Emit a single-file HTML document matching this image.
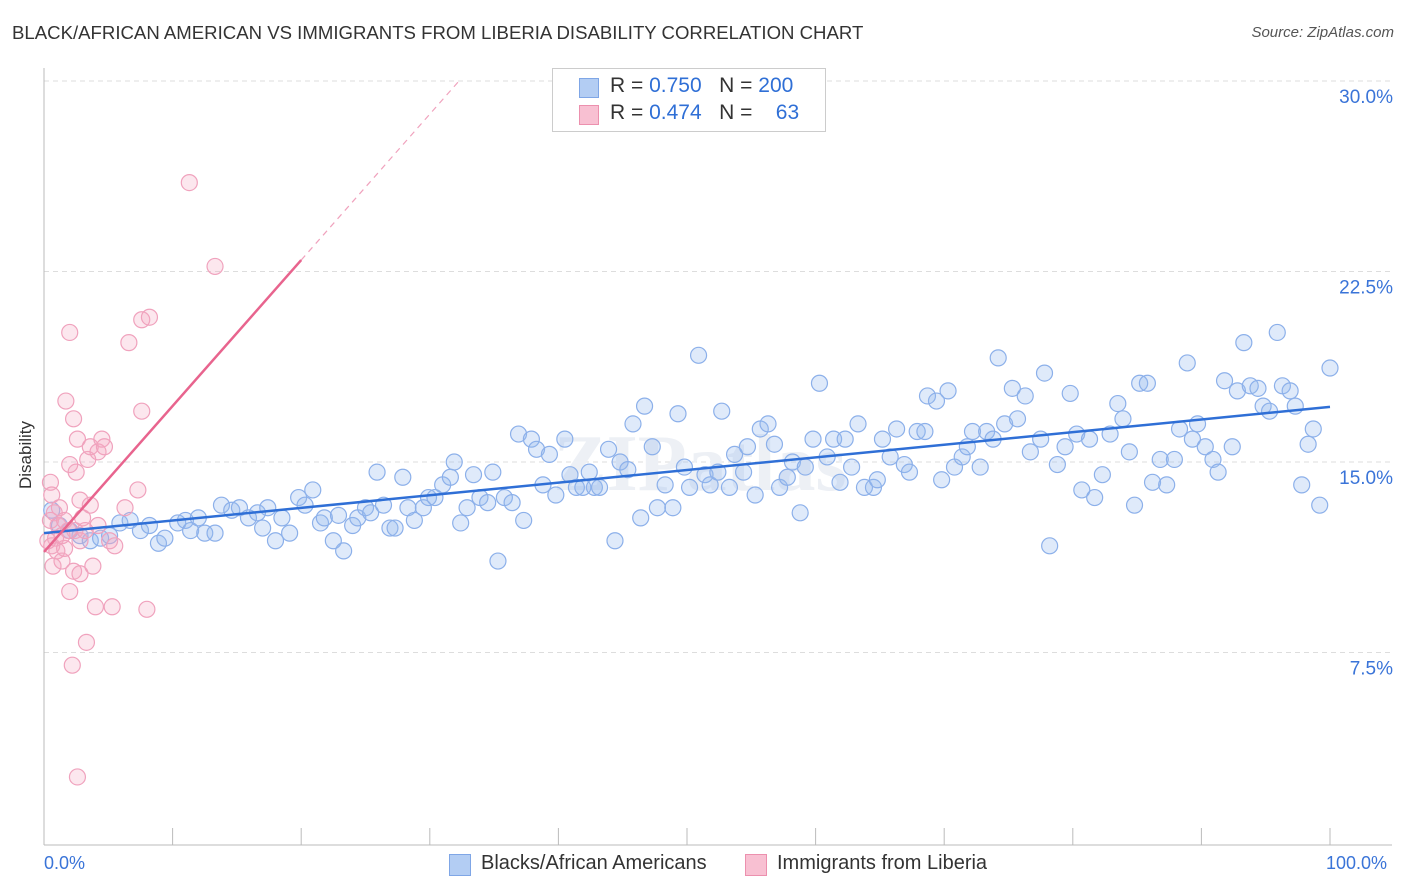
<!DOCTYPE html>
<html><head><meta charset="utf-8">
<style>
body{margin:0;background:#fff;font-family:"Liberation Sans",sans-serif;}
#wrap{position:relative;width:1406px;height:892px;overflow:hidden;}
.t{position:absolute;white-space:nowrap;}
</style></head>
<body>
<div id="wrap">
<div class="t" style="left:12px;top:22px;font-size:18.6px;color:#333;">BLACK/AFRICAN AMERICAN VS IMMIGRANTS FROM LIBERIA DISABILITY CORRELATION CHART</div>
<div class="t" style="right:12px;top:24px;font-size:15px;color:#555;font-style:italic;">Source: ZipAtlas.com</div>
<div class="t" style="left:-8px;top:445px;font-size:17px;color:#333;transform:rotate(-90deg);">Disability</div>
<svg id="plot" width="1406" height="892" style="position:absolute;left:0;top:0;"></svg>
<div class="t" style="left:44px;top:853px;font-size:18px;color:#3a74d8;">0.0%</div>
<div class="t" style="left:1326px;top:853px;font-size:18px;color:#3a74d8;">100.0%</div>
<div style="position:absolute;left:552px;top:68px;width:272px;height:62px;border:1px solid #ccc;background:#fff;">
 <div style="position:absolute;left:26px;top:9px;width:18px;height:18px;background:#b3cdf3;border:1px solid #7fa6e6;"></div>
 <div class="t" style="left:57px;top:5px;font-size:21px;color:#333;">R = <span style="color:#2f6fd6">0.750</span>&nbsp;&nbsp;&nbsp;N = <span style="color:#2f6fd6">200</span></div>
 <div style="position:absolute;left:26px;top:36px;width:18px;height:18px;background:#f8c0d2;border:1px solid #ec90ae;"></div>
 <div class="t" style="left:57px;top:32px;font-size:21px;color:#333;">R = <span style="color:#2f6fd6">0.474</span>&nbsp;&nbsp;&nbsp;N = &nbsp;&nbsp;&nbsp;<span style="color:#2f6fd6">63</span></div>
</div>
<div style="position:absolute;left:449px;top:854px;width:20px;height:20px;background:#b3cdf3;border:1px solid #7fa6e6;"></div>
<div class="t" style="left:481px;top:852px;font-size:20px;color:#333;">Blacks/African Americans</div>
<div style="position:absolute;left:745px;top:854px;width:20px;height:20px;background:#f8c0d2;border:1px solid #ec90ae;"></div>
<div class="t" style="left:777px;top:852px;font-size:20px;color:#333;">Immigrants from Liberia</div>
</div>
<script>
const yTicks=[7.5,15,22.5,30];
const yTickLabels=["7.5%","15.0%","22.5%","30.0%"];
const xTicks=[0,10,20,30,40,50,60,70,80,90,100];
const blueX=[0.6,1.2,2.0,2.8,3.6,4.4,5.1,5.9,6.7,7.5,8.2,8.9,9.4,10.4,11.0,11.4,12.0,12.5,13.3,13.8,14.6,15.2,15.9,16.6,17.0,17.4,18.0,18.5,19.1,19.8,20.3,20.9,21.5,21.8,22.5,22.9,23.3,24.0,24.4,25.0,25.4,26.4,26.9,27.3,25.9,27.9,28.3,28.8,29.5,29.9,30.4,31.0,31.6,31.9,32.4,32.9,33.4,33.9,34.5,34.9,35.3,35.8,36.4,36.9,37.3,37.9,38.3,38.8,39.3,39.8,40.5,40.9,41.4,41.9,42.4,42.8,43.2,43.9,44.4,44.8,45.4,45.8,46.4,46.7,47.3,47.7,48.3,48.9,49.3,49.8,50.2,50.9,51.4,51.8,52.4,52.7,53.3,53.7,54.4,54.7,55.3,55.7,56.3,56.8,57.2,57.8,58.2,58.8,59.2,59.8,60.3,60.9,61.4,62.3,61.9,62.8,63.3,63.8,64.5,64.8,65.2,65.8,66.3,66.9,67.3,67.9,68.5,68.7,69.4,69.8,70.3,70.8,71.4,71.8,72.2,72.8,73.3,73.8,74.2,74.7,75.3,75.7,76.3,76.7,77.5,77.8,78.2,78.8,79.4,79.8,80.3,80.7,81.3,81.7,82.3,82.9,83.5,83.9,84.4,84.8,85.2,85.8,86.2,86.8,87.3,87.9,88.3,88.9,89.3,89.7,90.3,90.9,91.3,91.8,92.4,92.8,93.3,93.8,94.4,94.8,95.3,95.9,96.3,96.9,97.3,97.8,98.3,98.7,99.2,100];
const blueY=[13.1,12.5,12.3,12.1,11.9,12.0,12.1,12.6,12.7,12.3,12.5,11.8,12.0,12.6,12.7,12.3,12.8,12.2,12.2,13.3,13.1,13.2,12.8,13.0,12.4,13.2,11.9,12.8,12.2,13.6,13.3,13.9,12.6,12.8,11.9,12.9,11.5,12.5,12.8,13.2,13.0,13.3,12.4,12.4,14.6,14.4,13.2,12.7,13.2,13.6,13.6,14.1,14.4,15.0,12.6,13.2,14.5,13.6,13.4,14.6,11.1,13.6,13.4,16.1,12.7,15.9,15.5,14.1,15.3,13.7,15.9,14.5,14.0,14.0,14.6,14.0,14.0,15.5,11.9,15.0,14.7,16.5,12.8,17.2,15.6,13.2,14.1,13.2,16.9,14.8,14.0,19.2,14.5,14.1,14.6,17.0,14.0,15.3,14.6,15.6,13.7,16.3,16.5,15.7,14.0,14.4,15.0,13.0,14.8,15.9,18.1,15.2,15.9,15.9,14.2,14.8,16.5,14.0,14.0,14.3,15.9,15.2,16.3,14.9,14.6,16.2,16.2,17.6,17.4,14.3,17.8,14.8,15.2,15.6,16.2,14.8,16.2,15.9,19.1,16.5,17.9,16.7,17.6,15.4,15.9,18.5,11.7,14.9,15.6,17.7,16.1,13.9,15.9,13.6,14.5,16.1,17.3,16.7,15.4,13.3,18.1,18.1,14.2,15.1,14.1,15.1,16.3,18.9,15.9,16.5,15.6,15.1,14.6,18.2,15.6,17.8,19.7,18.0,17.9,17.2,17.0,20.1,18.0,17.8,17.2,14.1,15.7,16.3,13.3,18.7];
const pinkX=[0.5,0.6,0.8,0.5,1.1,0.9,0.6,1.0,0.7,1.4,1.6,1.9,2.0,1.7,2.3,2.6,2.5,2.0,2.8,3.0,2.3,2.8,2.0,3.3,2.2,2.6,3.4,3.6,4.2,4.5,4.7,3.8,4.0,5.3,4.2,5.1,5.5,6.3,7.3,7.6,6.6,7.6,8.2,8.0,11.3,13.3,1.2,2.4,2.8,1.6,3.2,3.6,1.4,0.3];
const pinkY=[14.2,13.7,13.0,12.7,12.5,12.0,11.7,11.5,10.9,11.1,11.6,12.3,20.1,17.4,16.7,15.9,14.6,14.9,13.5,12.8,10.7,10.6,9.9,7.9,7.0,2.6,15.1,15.6,15.4,15.9,15.6,10.9,9.3,9.3,12.5,11.9,11.7,13.2,13.9,17.0,19.7,20.6,20.7,9.2,26.0,22.7,13.2,12.3,11.9,12.7,12.3,13.3,12.1,11.9];
const blueTrend=[12.2,17.17];
const pinkTrend=[11.46,22.95];
const X0=44,X1=1330,YB=843,YT=81;
const sx=v=>X0+(X1-X0)*v/100;
const sy=v=>YB-(YB-YT)*v/30;
const svg=document.getElementById('plot');
const NS='http://www.w3.org/2000/svg';
function mk(tag,attrs){const e=document.createElementNS(NS,tag);for(const k in attrs)e.setAttribute(k,attrs[k]);svg.appendChild(e);return e;}
yTicks.forEach((t,i)=>{
 const g=mk('line',{x1:X0,x2:1392,y1:sy(t),y2:sy(t),stroke:'#ddd','stroke-dasharray':'5,4'});
 
 
 const l=mk('text',{x:1393,y:sy(t)+22,'text-anchor':'end','font-size':19,fill:'#3a74d8','font-family':'Liberation Sans, sans-serif'});
 l.textContent=yTickLabels[i];
 
 
});
const ax=mk('line',{x1:X0,x2:X0,y1:68,y2:845,stroke:'#bbb'});


const bx=mk('line',{x1:X0,x2:1392,y1:845,y2:845,stroke:'#bbb'});


xTicks.forEach(t=>{
 const tk=mk('line',{x1:sx(t),x2:sx(t),y1:828,y2:845,stroke:'#bbb'});
 
 
});
const wm=mk('text',{x:700,y:490,'text-anchor':'middle','font-size':80,fill:'#edf0f5','font-family':'Liberation Serif, serif','font-weight':'bold'});
wm.textContent='ZIPatlas';


blueX.forEach((x,i)=>{
 const c=mk('circle',{cx:sx(x),cy:sy(blueY[i]),r:8,fill:'rgba(150,185,240,0.3)',stroke:'#8cb0ea','stroke-width':1.2});
 
 
});
pinkX.forEach((x,i)=>{
 const c=mk('circle',{cx:sx(x),cy:sy(pinkY[i]),r:8,fill:'rgba(245,170,195,0.28)',stroke:'#f0a2bd','stroke-width':1.2});
 
 
});
const bt=mk('line',{x1:sx(0),y1:sy(blueTrend[0]),x2:sx(100),y2:sy(blueTrend[1]),stroke:'#2f6fd6','stroke-width':2.5});


const slope=(pinkTrend[1]-pinkTrend[0])/20;
const xe=(30-pinkTrend[0])/slope;
const pd=mk('line',{x1:sx(20),y1:sy(pinkTrend[1]),x2:sx(xe),y2:sy(30),stroke:'#f0a2bd','stroke-width':1.2,'stroke-dasharray':'6,5'});


const pt=mk('line',{x1:sx(0),y1:sy(pinkTrend[0]),x2:sx(20),y2:sy(pinkTrend[1]),stroke:'#e8648e','stroke-width':2.5});


</script>
</body></html>
